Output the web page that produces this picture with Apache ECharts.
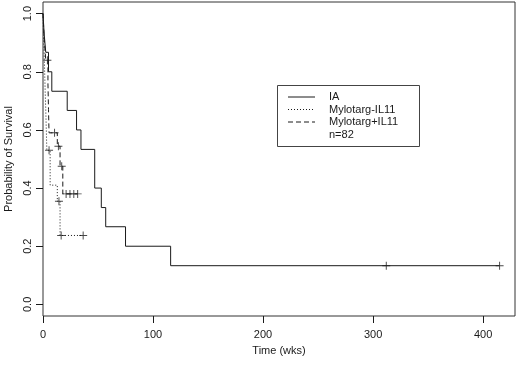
<!DOCTYPE html>
<html>
<head>
<meta charset="utf-8">
<script src="https://cdn.jsdelivr.net/npm/echarts@6/dist/echarts.min.js"></script>
<style>
  html, body { margin: 0; padding: 0; background: #fff; }
  #chart { width: 520px; height: 365px; }
</style>
</head>
<body>
<div id="chart"></div>
<script>
// Kaplan-Meier steps (time in weeks, survival probability)
const iaTime = [0, 1, 2.5, 5, 8, 22, 30.5, 34.5, 47, 53, 57, 75, 116, 415];
const iaSurv = [1, 0.933, 0.867, 0.8, 0.733, 0.667, 0.6, 0.533, 0.4, 0.333, 0.267, 0.2, 0.133, 0.133];
const iaCensorTime = [312, 415];
const iaCensorSurv = [0.133, 0.133];

const mIlTime = [0, 0.5, 1, 1.5, 2, 2.5, 3, 3.5, 6.5, 13, 15.5, 36.5];
const mIlSurv = [1, 0.93, 0.87, 0.8, 0.73, 0.67, 0.6, 0.53, 0.41, 0.355, 0.237, 0.237];
const mIlCensorTime = [5.5, 14.5, 16.5, 36.5];
const mIlCensorSurv = [0.53, 0.355, 0.237, 0.237];

const mPlusTime = [0, 1, 2.5, 4.5, 5, 5.5, 13, 15.5, 18, 31.5];
const mPlusSurv = [1, 0.92, 0.84, 0.76, 0.67, 0.59, 0.544, 0.475, 0.38, 0.38];
const mPlusCensorTime = [4, 10.5, 14, 17, 21, 24.5, 28, 31.5];
const mPlusCensorSurv = [0.84, 0.59, 0.544, 0.475, 0.38, 0.38, 0.38, 0.38];

const xTicks = [0, 100, 200, 300, 400];
const yTicks = [0, 0.2, 0.4, 0.6, 0.8, 1.0];

const legendNames = ['IA', 'Mylotarg-IL11', 'Mylotarg+IL11', 'n=82'];

const ink = '#1a1a1a';
const font = '"Liberation Sans", Arial, Helvetica, sans-serif';
const plus = 'path://M-0.12,-1H0.12V-0.12H1V0.12H0.12V1H-0.12V0.12H-1V-0.12H-0.12Z';

function zip(xs, ys) {
  return xs.map((x, i) => [x, ys[i]]);
}

function curve(name, xs, ys, type) {
  return {
    name: name,
    type: 'line',
    step: 'end',
    symbol: 'none',
    data: zip(xs, ys),
    lineStyle: { color: ink, width: 1, type: type },
    silent: true
  };
}

function censor(xs, ys) {
  return {
    type: 'scatter',
    symbol: plus,
    symbolSize: 8,
    data: zip(xs, ys),
    itemStyle: { color: ink },
    silent: true,
    z: 3
  };
}

const myChart = echarts.init(document.getElementById('chart'));

// legend drawn by hand, R style box
const lx = 275, ly = 83, rowY = [97, 109.5, 122, 135];
const lineTypes = ['solid', [1, 2], [5, 3]];
const legendGraphics = [{
  type: 'rect',
  left: lx, top: ly,
  shape: { width: 142, height: 61 },
  style: { fill: 'none', stroke: '#444', lineWidth: 1 }
}];
lineTypes.forEach((t, i) => {
  legendGraphics.push({
    type: 'line',
    shape: { x1: 288, y1: rowY[i], x2: 315, y2: rowY[i] },
    style: { stroke: ink, lineWidth: 1, lineDash: t === 'solid' ? null : t }
  });
});
legendNames.forEach((n, i) => {
  legendGraphics.push({
    type: 'text',
    x: 329, y: rowY[i],
    style: { text: n, fill: ink, font: '11px ' + font, textVerticalAlign: 'middle' }
  });
});

myChart.setOption({
  animation: false,
  textStyle: { fontFamily: font },
  grid: {
    left: 43, right: 5, top: 2, bottom: 49,
    outerBoundsMode: 'none',
    containLabel: false,
    show: true, borderColor: '#333', borderWidth: 1, backgroundColor: 'transparent'
  },
  xAxis: {
    type: 'value',
    min: 0, max: 429,
    name: 'Time (wks)',
    nameLocation: 'middle',
    nameGap: 29,
    nameTextStyle: { color: ink, fontSize: 11 },
    axisLine: { show: false, onZero: false },
    axisTick: { show: true, inside: false, length: 7, customValues: xTicks, lineStyle: { color: ink } },
    axisLabel: { customValues: xTicks, color: ink, fontSize: 11, margin: 13 },
    splitLine: { show: false }
  },
  yAxis: {
    type: 'value',
    min: -0.04, max: 1.04,
    name: 'Probability of Survival',
    nameLocation: 'middle',
    nameGap: 27,
    nameTextStyle: { color: ink, fontSize: 11 },
    axisLine: { show: false, onZero: false },
    axisTick: { show: true, inside: false, length: 7, customValues: yTicks, lineStyle: { color: ink } },
    axisLabel: {
      customValues: yTicks, rotate: 90, color: ink, fontSize: 11, margin: 10,
      formatter: v => v.toFixed(1)
    },
    splitLine: { show: false }
  },
  series: [
    curve('IA', iaTime, iaSurv, 'solid'),
    curve('Mylotarg-IL11', mIlTime, mIlSurv, [1, 2]),
    curve('Mylotarg+IL11', mPlusTime, mPlusSurv, [5, 3]),
    censor(iaCensorTime, iaCensorSurv),
    censor(mIlCensorTime, mIlCensorSurv),
    censor(mPlusCensorTime, mPlusCensorSurv)
  ],
  graphic: legendGraphics
});
</script>
</body>
</html>
